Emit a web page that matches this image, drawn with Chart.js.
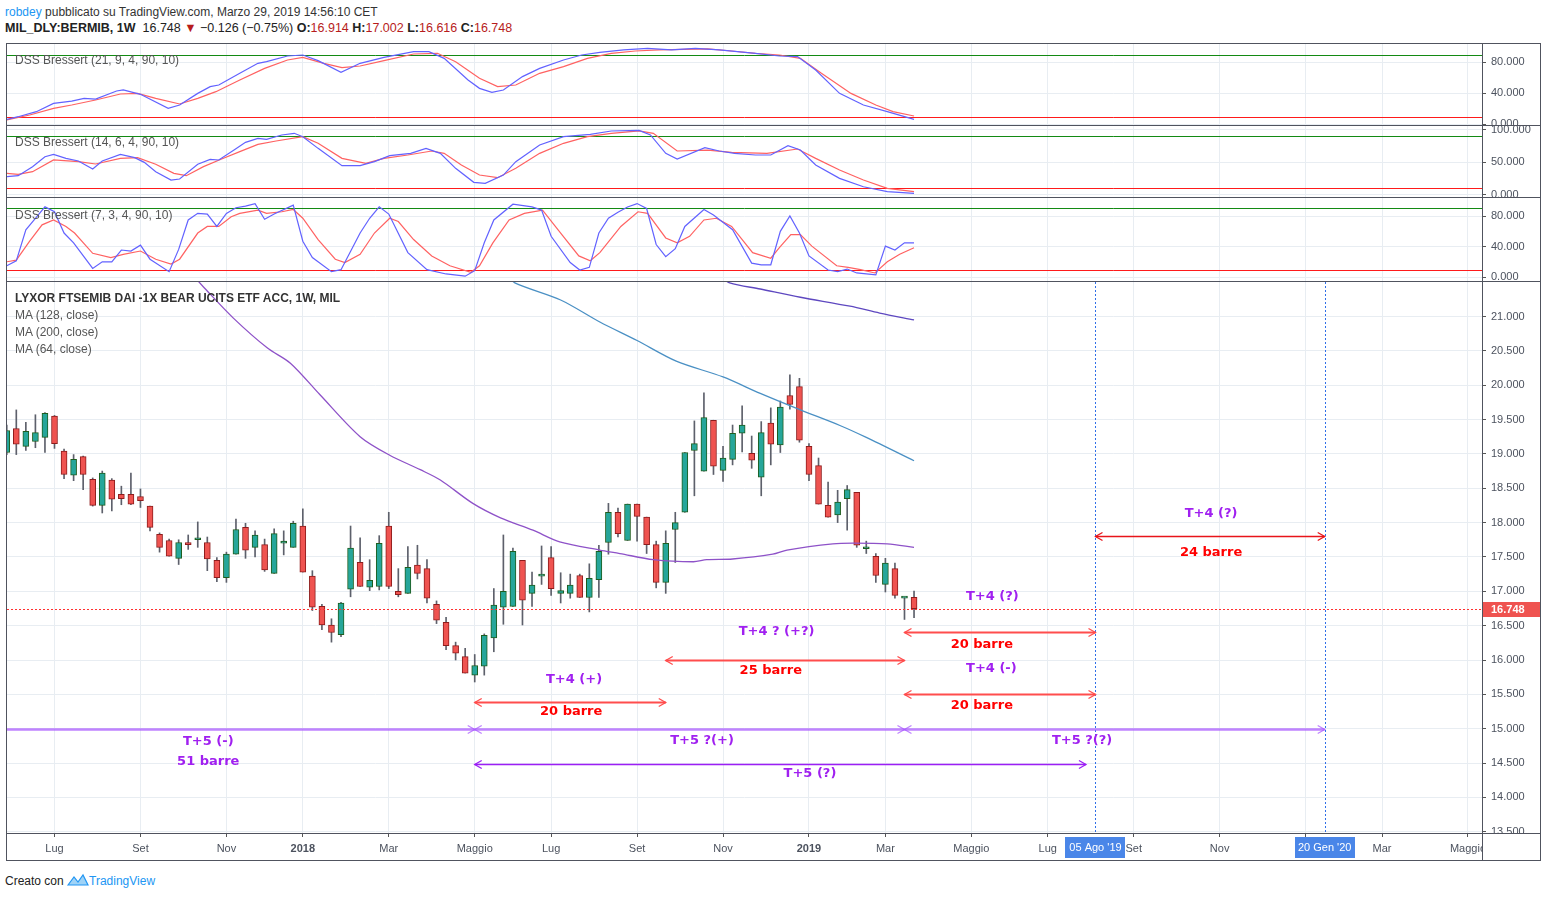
<!DOCTYPE html>
<html lang="it">
<head>
<meta charset="UTF-8">
<title>MIL_DLY:BERMIB, 1W</title>
<script src="https://cdn.jsdelivr.net/npm/chart.js"></script>
<style>
  body { margin: 0; width: 1547px; height: 898px; background: #fff; position: relative; overflow: hidden;
         font-family: 'Liberation Sans', Arial, sans-serif; color: #333; }
  canvas { position: absolute; }
  .line { position: absolute; background: #50535e; z-index: 5; }
  .txt { position: absolute; white-space: nowrap; z-index: 6; }
  .title { left: 15px; font-size: 12px; color: #555; font-family: 'Liberation Sans Narrow', 'Liberation Sans', sans-serif; }
  .red { color: #b71c1c; }
</style>
</head>
<body>

<!-- header -->
<div class="txt" style="left:5px;top:5px;font-size:12px;color:#333"><span style="color:#2196f3">robdey</span> pubblicato su TradingView.com, Marzo 29, 2019 14:56:10 CET</div>
<div class="txt" style="left:5px;top:21px;font-size:12.5px;color:#222">
  <b>MIL_DLY:BERMIB, 1W</b>&nbsp; 16.748 <span class="red">&#9660;</span> &minus;0.126 (&minus;0.75%) <b>O:</b><span class="red">16.914</span> <b>H:</b><span class="red">17.002</span> <b>L:</b><span class="red">16.616</span> <b>C:</b><span class="red">16.748</span>
</div>

<!-- panes -->
<canvas id="p1" width="1533" height="81" style="left:7px;top:44px"></canvas>
<canvas id="p2" width="1533" height="71" style="left:7px;top:126px"></canvas>
<canvas id="p3" width="1533" height="83" style="left:7px;top:198px"></canvas>
<canvas id="main" width="1533" height="578" style="left:7px;top:282px"></canvas>

<!-- frame -->
<div class="line" style="left:6px;top:43px;width:1535px;height:1px"></div>
<div class="line" style="left:6px;top:860px;width:1535px;height:1px"></div>
<div class="line" style="left:6px;top:43px;width:1px;height:818px"></div>
<div class="line" style="left:1540px;top:43px;width:1px;height:818px"></div>
<div class="line" style="left:1482px;top:43px;width:1px;height:818px"></div>
<div class="line" style="left:6px;top:125px;width:1535px;height:1px"></div>
<div class="line" style="left:6px;top:197px;width:1535px;height:1px"></div>
<div class="line" style="left:6px;top:281px;width:1535px;height:1px"></div>
<div class="line" style="left:6px;top:833px;width:1535px;height:1px"></div>

<!-- pane titles -->
<div class="txt title" style="top:53px">DSS Bressert (21, 9, 4, 90, 10)</div>
<div class="txt title" style="top:135px">DSS Bressert (14, 6, 4, 90, 10)</div>
<div class="txt title" style="top:208px">DSS Bressert (7, 3, 4, 90, 10)</div>
<div class="txt title" style="top:291px;font-weight:bold;color:#333">LYXOR FTSEMIB DAI -1X BEAR UCITS ETF ACC, 1W, MIL</div>
<div class="txt title" style="top:308px">MA (128, close)</div>
<div class="txt title" style="top:325px">MA (200, close)</div>
<div class="txt title" style="top:342px">MA (64, close)</div>

<!-- footer -->
<div class="txt" style="left:5px;top:873px;font-size:12px;color:#222">Creato con
  <svg width="22" height="14" viewBox="0 0 22 14" style="vertical-align:-2px"><path d="M1 12 L7 4 L11 9 L16 2 L21 12 Z" fill="#9fd3f7" stroke="#2196f3" stroke-width="1.2"/></svg><span style="color:#2196f3">TradingView</span></div>

<script>
// weekly bars, index 0 = week of 29 May 2017
const monthTicks = [5, 14, 23, 31, 40, 49, 57, 66, 75, 84, 92, 101, 109, 118, 127, 136, 144, 153];
// the 2020 label sits under the "20 Gen '20" tag, so it is left blank
const monthLabels = ['Lug', 'Set', 'Nov', '2018', 'Mar', 'Maggio', 'Lug', 'Set', 'Nov', '2019', 'Mar', 'Maggio', 'Lug', 'Set', 'Nov', '', 'Mar', 'Maggio'];
const yearTicks = [31, 84, 136];

const candleOpen = [19.02,19.37,19.11,19.18,19.24,19.55,19.04,18.69,18.96,18.63,
  18.25,18.62,18.41,18.41,18.38,18.24,17.83,17.74,17.48,17.71,
  17.75,17.71,17.45,17.20,17.54,17.93,17.64,17.68,17.26,17.70,
  17.64,17.95,17.22,16.78,16.51,16.37,17.03,17.42,17.06,17.07,
  17.95,17.00,16.97,17.38,17.33,16.81,16.55,16.21,16.05,15.78,
  15.91,16.32,16.77,16.78,17.45,16.97,17.22,17.49,16.97,16.97,
  17.23,16.91,17.17,17.71,18.15,17.74,18.27,18.08,17.68,17.13,
  17.90,18.15,19.05,18.75,19.49,18.76,18.92,19.30,19.01,18.66,
  19.45,19.13,19.85,19.98,19.11,18.83,18.25,18.11,18.35,18.44,
  17.62,17.51,17.10,17.33,16.90,16.914];
const candleHigh = [19.42,19.64,19.46,19.57,19.60,19.56,19.07,18.99,18.97,18.65,
  18.75,18.64,18.53,18.72,18.49,18.24,17.85,17.76,17.75,17.82,
  18.01,17.79,17.49,17.57,18.05,17.99,17.88,17.76,17.91,17.88,
  18.02,18.20,17.30,16.81,16.60,16.84,17.95,17.78,17.46,17.81,
  18.15,17.33,17.65,17.67,17.46,16.86,16.62,16.26,16.17,16.08,
  16.38,17.04,17.82,17.63,17.45,17.28,17.66,17.65,17.27,17.25,
  17.25,17.40,17.67,18.28,18.21,18.27,18.27,18.08,17.73,17.88,
  18.15,19.02,19.48,19.89,19.49,19.11,19.42,19.70,19.26,19.47,
  19.67,19.77,20.15,20.10,19.15,18.94,18.59,18.47,18.54,18.44,
  17.73,17.55,17.48,17.41,16.91,17.002];
const candleLow = [18.99,18.99,19.05,19.09,19.02,19.08,18.64,18.61,18.48,18.24,
  18.14,18.17,18.26,18.26,18.22,17.88,17.57,17.51,17.39,17.61,
  17.64,17.30,17.14,17.13,17.54,17.48,17.50,17.29,17.26,17.53,
  17.64,17.28,16.72,16.44,16.26,16.34,16.92,17.07,17.01,17.02,
  17.04,16.92,16.97,17.18,16.83,16.53,16.15,16.00,15.81,15.68,
  15.78,16.12,16.52,16.78,16.51,16.78,17.10,16.94,16.83,16.90,
  16.91,16.70,16.91,17.54,17.79,17.74,17.73,17.55,17.05,16.97,
  17.42,18.15,18.39,18.75,18.70,18.60,18.84,19.03,18.79,18.39,
  18.84,19.02,19.65,19.17,18.61,18.27,18.08,18.00,17.89,17.64,
  17.55,17.13,16.99,16.90,16.59,16.616];
const candleClose = [19.34,19.14,19.33,19.31,19.59,19.15,18.70,18.92,18.70,18.25,
  18.72,18.34,18.35,18.27,18.32,17.93,17.64,17.51,17.71,17.68,
  17.755,17.47,17.20,17.54,17.90,17.60,17.82,17.31,17.84,17.73,
  17.99,17.28,16.77,16.51,16.40,16.83,17.63,17.07,17.16,17.70,
  17.07,16.95,17.35,17.26,16.90,16.58,16.21,16.10,15.81,15.92,
  16.36,16.80,17.00,17.58,16.87,17.09,17.23,17.04,17.01,17.09,
  16.91,17.19,17.58,18.15,17.84,18.27,18.09,17.68,17.13,17.70,
  18.00,19.02,19.15,19.53,18.82,18.94,19.30,19.42,18.91,19.31,
  19.14,19.68,19.72,19.20,18.70,18.27,18.08,18.30,18.48,17.67,
  17.625,17.23,17.41,16.94,16.905,16.748];

// moving averages [bar, price]
const ma64 = [[19.5,21.6],[20.6,21.43],[23.7,20.98],[27.3,20.54],[29.7,20.32],[32.8,19.86],[37.0,19.25],[40.1,18.98],
  [43.3,18.77],[45.4,18.62],[48.8,18.28],[51.7,18.07],[55.1,17.89],[57.9,17.72],[62.1,17.60],[64.2,17.55],[67.7,17.46],
  [71.9,17.43],[73.3,17.46],[76.0,17.47],[80.2,17.54],[81.7,17.60],[86.5,17.69],[88.6,17.70],[92.2,17.69],[95,17.64]];
const ma128 = [[52.5,21.6],[53.2,21.49],[58,21.24],[62.1,20.92],[66,20.65],[70.1,20.35],[75,20.12],[78.9,19.88],
  [83.1,19.64],[87.3,19.41],[90,19.24],[95,18.90]];
const ma200 = [[74.5,21.6],[75.7,21.49],[78.9,21.40],[83.1,21.28],[88.3,21.15],[91.4,21.05],[95,20.95]];

// DSS Bressert oscillators [bar, value]
const dss1Blue = [[0,6.4],[1.2,9.8],[3.1,16.3],[4.9,27.0],[6.8,30.0],[8.1,33.5],[9.3,32.6],[11.5,43.0],[12.2,44.3],[14.0,38.7],
  [16.9,20.6],[18.1,24.9],[20.0,39.9],[21.3,48.6],[22.2,50.7],[24.4,65.8],[26.3,78.7],[27.2,80.8],[29.4,88.1],[31.0,89.4],
  [32.6,82.1],[35.0,67.0],[37.0,78.7],[39.5,86.4],[42.6,93.7],[44.2,93.7],[45.8,85.1],[48.3,57.2],[49.5,46.4],[50.8,41.2],
  [52.0,44.3],[54.0,61.5],[55.8,72.2],[58.3,83.0],[60.2,89.4],[62.1,92.8],[64.6,95.9],[67.1,98.0],[69.6,95.9],[72.1,98.0],
  [74.6,95.9],[78.4,91.6],[80.9,88.1],[82.8,87.3],[84.7,70.0],[87.2,39.9],[89.7,24.9],[92.2,16.3],[95,6.4]];
const dss1Red = [[0,5.5],[2.4,12.0],[4.9,20.6],[6.8,24.9],[9.3,31.4],[11.9,39.1],[13.7,40.0],[15.6,33.5],[18.1,26.2],[20.0,33.5],
  [21.9,42.1],[24.4,57.2],[27.0,72.2],[29.4,83.0],[31.0,86.4],[33.2,78.7],[35.1,73.1],[37.0,75.2],[39.5,82.1],[42.6,90.7],
  [45.1,91.6],[47.0,80.8],[49.5,59.3],[51.4,48.6],[53.3,50.7],[55.8,65.8],[58.3,74.4],[60.8,85.1],[63.3,91.6],[65.8,94.6],
  [68.3,95.9],[70.9,96.7],[73.4,97.2],[75.9,94.6],[78.4,91.6],[80.9,89.4],[83.1,85.1],[85.3,65.8],[88.4,39.9],[91.0,24.9],
  [92.8,16.3],[95,10.7]];
const dss2Blue = [[0,27.6],[1.2,29.1],[2.7,43.1],[4.0,58.5],[4.9,62.1],[6.2,55.9],[7.5,51.8],[9.0,39.4],[10.0,51.8],[11.9,62.1],
  [13.4,57.0],[14.4,49.7],[15.6,35.3],[17.2,22.4],[18.1,23.9],[20.0,46.7],[21.3,54.4],[22.2,53.4],[23.8,68.8],[25.0,80.7],
  [26.3,86.9],[27.2,85.4],[28.8,92.1],[30.1,94.7],[31.0,89.5],[32.6,71.4],[35.1,44.6],[37.0,44.6],[38.5,50.8],[40.1,60.1],
  [42.3,63.7],[43.9,71.4],[45.4,63.7],[47.0,40.5],[48.9,18.8],[50.1,17.2],[52.0,30.1],[53.3,50.8],[55.8,76.6],[58.3,89.5],
  [61.1,93.1],[63.3,98.3],[66.2,99.3],[67.4,92.1],[69.0,63.7],[70.2,54.9],[73.1,72.5],[74.6,67.3],[76.2,63.7],[78.4,61.1],
  [80.0,61.1],[81.8,75.5],[83.1,68.8],[84.7,45.6],[87.2,25.0],[89.7,12.0],[92.2,4.3],[95,1.7]];
const dss2Red = [[0,32.7],[1.2,31.2],[2.7,35.3],[4.9,53.4],[7.5,50.8],[9.3,47.2],[11.9,55.9],[13.7,57.0],[15.6,46.7],[17.5,32.7],
  [18.8,29.1],[20.6,43.1],[22.5,54.9],[24.4,66.3],[26.3,77.6],[28.2,82.8],[31.0,89.5],[32.6,79.2],[35.1,55.9],[37.6,48.2],
  [39.5,55.9],[42.0,61.1],[44.5,67.3],[45.8,63.7],[47.6,45.6],[49.5,30.1],[51.4,26.0],[53.3,40.5],[55.8,63.7],[58.3,79.2],
  [60.8,89.5],[63.3,94.7],[66.2,98.3],[67.7,94.7],[70.2,67.3],[73.4,68.8],[75.9,65.2],[79.6,63.7],[82.8,70.4],[84.7,55.9],
  [87.2,37.9],[89.7,22.4],[92.2,9.5],[95,4.3]];
const dss3Blue = [[0,15.1],[1,21.6],[2,62.2],[3,77.2],[4,92.1],[5,85.7],[6,57.9],[7,45.1],[9,11.7],[10,20.3],[11,20.3],[12,35.7],
  [13,34.4],[14,42.1],[15,23.7],[17,7.4],[18,36.5],[19,75.0],[20,83.6],[21,82.7],[22,66.5],[23,83.6],[24,91.0],[25,93.0],
  [26,96.4],[27,75.9],[28,82.7],[30,94.3],[31,47.2],[32,25.8],[34,7.4],[35,10.0],[37,57.9],[38,77.2],[39,92.1],[40,82.7],
  [42,32.3],[44,10.0],[46,4.4],[48,1.5],[49,8.7],[50,45.1],[51,75.0],[53,95.6],[55,92.1],[56,87.9],[57,53.6],[59,19.4],
  [60,9.6],[61,13.0],[62,57.9],[63,77.2],[64,85.0],[65,92.0],[66,96.4],[67,90.0],[68,42.9],[69,27.1],[70,37.4],[71,66.5],
  [73,88.7],[74,81.4],[76,62.2],[78,18.6],[79,16.4],[80,16.4],[81,60.1],[82,80.2],[83,57.9],[84,28.0],[86,9.6],[87,7.4],
  [88,10.8],[89,5.7],[91,3.2],[92,40.8],[93,35.7],[94,45.1],[95,45.1]];
const dss3Red = [[0,20.3],[1,22.4],[2.4,47.2],[3.7,68.6],[4.9,75.0],[6.2,66.5],[7.1,57.9],[9.0,31.4],[10.9,25.8],[12.2,30.1],
  [14.0,34.4],[15.6,23.7],[17.2,17.3],[18.1,23.7],[20.0,57.9],[21.0,66.5],[22.2,66.5],[23.5,79.3],[24.4,83.6],[26.3,87.9],
  [27.2,83.6],[28.8,85.7],[30.0,88.7],[31.0,77.2],[32.6,49.4],[34.4,23.7],[35.4,19.4],[37.0,30.1],[38.5,57.9],[40.1,77.2],
  [41.0,72.9],[42.6,49.4],[44.5,28.0],[46.4,15.1],[48.6,6.6],[49.5,15.1],[50.9,45.1],[52.6,75.0],[54.2,83.6],[56.1,87.9],
  [58.0,57.9],[59.9,28.0],[61.1,21.6],[62.1,32.3],[64.3,66.5],[66.1,85.7],[67.1,83.6],[69.0,51.5],[70.2,45.1],[71.5,53.6],
  [73.0,75.0],[74.3,77.2],[75.9,66.5],[78.1,32.3],[80.0,25.0],[80.9,38.7],[82.1,55.8],[83.1,55.8],[84.3,40.8],[86.9,15.1],
  [88.1,13.0],[89.4,10.0],[90.9,5.7],[92.2,20.3],[93.5,30.1],[95,38.7]];
const dssLevels = [90, 10];

// drawings on the price pane
const markBars = [114, 138];
const markLabels = ["05 Ago '19", "20 Gen '20"];
const arrowFrom  = [114, 94, 69, 94, 49, -2, 49, 94, 49];
const arrowTo    = [138, 114, 94, 114, 69, 49, 94, 138, 113];
const arrowLevel = [17.80, 16.41, 16.00, 15.50, 15.39, 15.00, 15.00, 15.00, 14.49];
const arrowKind  = ['red', 'red2', 'red2', 'red2', 'red2', 'band', 'band', 'band', 'violet'];
const noteText  = ['T+4 (?)', '24 barre', 'T+4 (?)', '20 barre', 'T+4 ? (+?)', '25 barre', 'T+4 (-)', '20 barre',
                   'T+4 (+)', '20 barre', 'T+5 (-)', '51 barre', 'T+5 ?(+)', 'T+5 ?(?)', 'T+5 (?)'];
const noteBar   = [126.1, 126.1, 103.2, 102.1, 80.6, 80.0, 103.1, 102.1, 59.4, 59.1, 21.1, 21.1, 72.8, 112.6, 84.1];
const notePrice = [18.125, 17.57, 16.92, 16.23, 16.41, 15.84, 15.88, 15.33, 15.71, 15.25, 14.81, 14.52, 14.82, 14.83, 14.34];

const X_MIN = 0.026, X_MAX = 154.47;
const GRID = '#e8edf2';
const AXIS_TXT = '#4c525e';
const UP = '#26a69a', DOWN = '#ef5350', UP_EDGE = '#1e5d1e', DOWN_EDGE = '#8e1c1c';
const PURPLE = '#a020f0';

Chart.defaults.font.family = "'Liberation Sans', Arial, sans-serif";

function xAxis(showLabels) {
  return {
    type: 'linear', min: X_MIN, max: X_MAX, offset: false,
    afterBuildTicks: ax => { ax.ticks = monthTicks.map(v => ({ value: v })); },
    grid: { color: GRID, offset: false, drawTicks: showLabels, tickLength: 4, tickColor: '#555' },
    border: { display: false },
    ticks: {
      display: showLabels, autoSkip: false, maxRotation: 0, padding: 5, color: AXIS_TXT,
      font: ctx => ({ size: 11, weight: yearTicks.includes(ctx.tick && ctx.tick.value) ? 'bold' : 'normal' }),
      callback: v => monthLabels[monthTicks.indexOf(v)]
    },
    afterFit: ax => { ax.height = showLabels ? 27 : 0; ax.paddingLeft = 0; ax.paddingRight = 0; }
  };
}

function yAxis(min, max, ticks) {
  return {
    position: 'right', min: min, max: max,
    afterBuildTicks: ax => { ax.ticks = ticks.map(v => ({ value: v })); },
    grid: { color: GRID, tickLength: 4, tickColor: '#555' },
    border: { display: false },
    ticks: { color: AXIS_TXT, padding: 5, font: { size: 11 }, callback: v => v.toFixed(3) },
    afterFit: ax => { ax.width = 58; ax.paddingTop = 0; ax.paddingBottom = 0; }
  };
}

function baseOptions(yMin, yMax, yTicks, showX) {
  return {
    responsive: false, animation: false, events: [],
    layout: { padding: 0 },
    plugins: { legend: { display: false }, tooltip: { enabled: false } },
    scales: { x: xAxis(showX), y: yAxis(yMin, yMax, yTicks) }
  };
}

const levelPlugin = {
  id: 'levels',
  beforeDatasetsDraw(chart) {
    const { ctx, chartArea: a, scales: { y } } = chart;
    ctx.save();
    ctx.lineWidth = 1;
    [['#138a13', dssLevels[0]], ['#ff1a1a', dssLevels[1]]].forEach(([c, v]) => {
      const yy = Math.round(y.getPixelForValue(v)) + 0.5;
      ctx.strokeStyle = c;
      ctx.beginPath(); ctx.moveTo(a.left, yy); ctx.lineTo(a.right, yy); ctx.stroke();
    });
    ctx.restore();
  }
};

function oscChart(id, yMin, yMax, yTicks, blue, red) {
  return new Chart(document.getElementById(id), {
    type: 'line',
    data: {
      datasets: [
        { data: blue, borderColor: '#6262ff', borderWidth: 1.2, pointRadius: 0, tension: 0 },
        { data: red, borderColor: '#ff6262', borderWidth: 1.2, pointRadius: 0, tension: 0 }
      ]
    },
    options: baseOptions(yMin, yMax, yTicks, false),
    plugins: [levelPlugin]
  });
}

oscChart('p1', -0.9, 103.6, [0, 40, 80], dss1Blue, dss1Red);
oscChart('p2', -3.9, 106.0, [0, 50, 100], dss2Blue, dss2Red);
oscChart('p3', -4.8, 103.7, [0, 40, 80], dss3Blue, dss3Red);

function chevron(ctx, x, y, dir) {
  ctx.beginPath();
  ctx.moveTo(x + dir * 7, y - 4); ctx.lineTo(x, y); ctx.lineTo(x + dir * 7, y + 4);
  ctx.stroke();
}

const arrowStyle = {
  red:    { color: '#e8141a', width: 1.5 },
  red2:   { color: '#ff4d4d', width: 2 },
  band:   { color: 'rgba(170, 90, 255, 0.75)', width: 2.5 },
  violet: { color: '#9c1ff5', width: 1.5 }
};

const notesPlugin = {
  id: 'notes',
  afterDatasetsDraw(chart) {
    const { ctx, chartArea: a, scales: { x, y } } = chart;
    ctx.save();
    ctx.beginPath(); ctx.rect(a.left, a.top, a.right - a.left, a.bottom - a.top); ctx.clip();

    // last price line
    const ly = Math.round(y.getPixelForValue(candleClose[candleClose.length - 1])) + 0.5;
    ctx.lineWidth = 1;
    ctx.setLineDash([2, 2]);
    ctx.strokeStyle = '#ff3030';
    ctx.beginPath(); ctx.moveTo(a.left, ly); ctx.lineTo(a.right, ly); ctx.stroke();

    // vertical date marks
    ctx.strokeStyle = '#2f6fe8';
    markBars.forEach(b => {
      const xx = Math.round(x.getPixelForValue(b)) + 0.5;
      ctx.beginPath(); ctx.moveTo(xx, a.top); ctx.lineTo(xx, a.bottom); ctx.stroke();
    });
    ctx.setLineDash([]);

    // bar-count arrows
    arrowFrom.forEach((f, i) => {
      const st = arrowStyle[arrowKind[i]];
      const x1 = x.getPixelForValue(f), x2 = x.getPixelForValue(arrowTo[i]);
      const yy = Math.round(y.getPixelForValue(arrowLevel[i])) + 0.5;
      ctx.strokeStyle = st.color; ctx.lineWidth = st.width;
      ctx.beginPath(); ctx.moveTo(x1, yy); ctx.lineTo(x2, yy); ctx.stroke();
      ctx.lineWidth = 1.3;
      chevron(ctx, x1, yy, 1);
      chevron(ctx, x2, yy, -1);
    });

    // text notes
    ctx.font = "bold 13px 'DejaVu Sans', Verdana, sans-serif";
    ctx.textAlign = 'center'; ctx.textBaseline = 'middle';
    noteText.forEach((t, i) => {
      const isCount = t.indexOf('barre') >= 0 && t !== '51 barre';
      ctx.fillStyle = isCount ? '#ff0000' : PURPLE;
      ctx.fillText(t, x.getPixelForValue(noteBar[i]), y.getPixelForValue(notePrice[i]));
    });
    ctx.restore();
  },
  afterDraw(chart) {
    const { ctx, chartArea: a, scales: { x, y } } = chart;
    ctx.save();
    // right axis / time axis corner is empty
    ctx.fillStyle = '#fff';
    ctx.fillRect(a.right, a.bottom, chart.width - a.right, chart.height - a.bottom);

    // last price tag
    const lp = candleClose[candleClose.length - 1];
    const ly = y.getPixelForValue(lp);
    ctx.fillStyle = '#ef5350';
    ctx.fillRect(a.right, Math.round(ly) - 7, chart.width - a.right, 15);
    ctx.fillStyle = '#fff';
    ctx.font = "bold 11px 'Liberation Sans', Arial, sans-serif";
    ctx.textAlign = 'left'; ctx.textBaseline = 'middle';
    ctx.fillText(lp.toFixed(3), a.right + 9, Math.round(ly) + 0.5);

    // date tags on time axis
    ctx.font = "11px 'Liberation Sans Narrow', 'Liberation Sans', Arial, sans-serif";
    ctx.textAlign = 'center';
    markBars.forEach((b, i) => {
      const xx = x.getPixelForValue(b);
      ctx.fillStyle = '#4a86e8';
      ctx.fillRect(Math.round(xx) - 30, a.bottom + 4, 60, 21);
      ctx.fillStyle = '#fff';
      ctx.fillText(markLabels[i], xx, a.bottom + 15);
    });
    ctx.restore();
  }
};

const up = candleClose.map((c, i) => c >= candleOpen[i]);

new Chart(document.getElementById('main'), {
  type: 'bar',
  data: {
    datasets: [
      { type: 'line', data: ma200, borderColor: '#5e48c0', borderWidth: 1.3, pointRadius: 0, tension: 0.3 },
      { type: 'line', data: ma128, borderColor: '#4a90c4', borderWidth: 1.3, pointRadius: 0, tension: 0.3 },
      { type: 'line', data: ma64, borderColor: '#8e52c8', borderWidth: 1.3, pointRadius: 0, tension: 0.3 },
      {
        data: candleOpen.map((o, i) => ({ x: i, y: [o, candleClose[i]] })),
        grouped: false, barThickness: 6, minBarLength: 2, borderWidth: 1, borderSkipped: false,
        backgroundColor: up.map(u => u ? UP : DOWN),
        borderColor: up.map(u => u ? UP_EDGE : DOWN_EDGE)
      },
      {
        data: candleLow.map((l, i) => ({ x: i, y: [l, candleHigh[i]] })),
        grouped: false, barThickness: 1, borderWidth: 0, backgroundColor: '#5d606b'
      }
    ]
  },
  options: baseOptions(13.482, 21.502,
    [13.5, 14, 14.5, 15, 15.5, 16, 16.5, 17, 17.5, 18, 18.5, 19, 19.5, 20, 20.5, 21], true),
  plugins: [notesPlugin]
});
</script>
</body>
</html>
